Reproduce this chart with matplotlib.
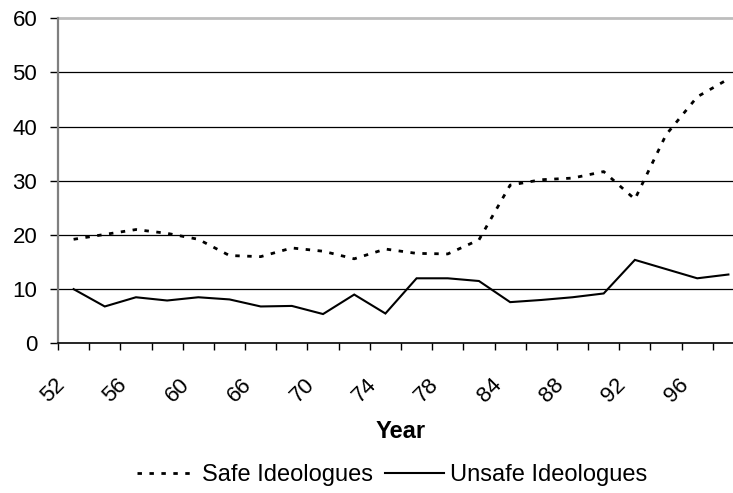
import matplotlib
matplotlib.use('Agg')
from matplotlib import pyplot as plt

plt.rcParams['font.family'] = ['Liberation Sans', 'DejaVu Sans']

years = ['52', '54', '56', '58', '60', '62', '66', '68', '70', '72', '74',
         '76', '78', '80', '84', '86', '88', '90', '92', '94', '96', '98']
safe = [19.2, 20.1, 21.0, 20.3, 19.2, 16.2, 16.0, 17.6, 17.0, 15.6, 17.4,
        16.6, 16.5, 19.1, 29.2, 30.2, 30.5, 31.7, 26.6, 38.5, 45.5, 48.8]
unsafe = [10.0, 6.8, 8.5, 7.9, 8.5, 8.1, 6.8, 6.9, 5.4, 9.0, 5.5,
          12.0, 12.0, 11.5, 7.6, 8.0, 8.5, 9.2, 15.4, 13.7, 12.0, 12.7]
yticks = [0, 10, 20, 30, 40, 50, 60]

W, H = 733, 493
fs = 16
fig = plt.figure(figsize=(W / 100, H / 100), dpi=100)
# axes: left spine at x=58px, y=0 at 343px, y=60 at 18px; right side runs off the picture
ax = fig.add_axes([58 / W, 1 - 343.3 / H, (744 - 58) / W, 325 / H])

x = list(range(len(years)))
ax.plot(x, safe, color='black', lw=2, dashes=(1.6, 2.7), dash_capstyle='butt',
        label='Safe Ideologues')
ax.plot(x, unsafe, color='black', lw=1.5, solid_joinstyle='miter',
        label='Unsafe Ideologues')

ax.set_xlim(-0.5, len(years) - 0.5)
ax.set_ylim(0, 60)

for v in yticks[1:-1]:
    ax.axhline(v, color='black', lw=0.9, zorder=0)
ax.axhline(60, color='#bdbdbd', lw=2, zorder=0, clip_on=False)

for s in ['top', 'right']:
    ax.spines[s].set_visible(False)
ax.spines['left'].set_color('#7f7f7f')
ax.spines['left'].set_linewidth(1.6)
ax.spines['bottom'].set_color('black')
ax.spines['bottom'].set_linewidth(1.2)

ax.set_yticks(yticks)
ax.set_yticklabels([str(v) for v in yticks], fontsize=fs)
ax.tick_params(axis='y', length=6, width=1, color='black', pad=9)

# tick marks between categories, labels on every other category
ax.set_xticks([k - 0.5 for k in range(len(years) + 1)])
ax.set_xticklabels([])
ax.tick_params(axis='x', length=5, width=1, color='black')
for k in range(0, len(years), 2):
    ax.annotate(years[k], xy=(k, 0), xycoords=('data', 'axes fraction'),
                xytext=(-12, -38), textcoords='offset pixels',
                rotation=45, ha='right', va='center', rotation_mode='anchor',
                fontsize=fs, annotation_clip=False)

fig.text(401 / W, 1 - 432 / H, 'Year', fontsize=17, fontweight='bold',
         ha='center', va='center')

fig.legend(loc='center', bbox_to_anchor=(392 / W, 1 - 475 / H), ncol=2,
           frameon=False, fontsize=17, handlelength=2.5, handletextpad=0.25,
           columnspacing=0.5, borderpad=0, borderaxespad=0)

fig.savefig('out.png', dpi=100)
